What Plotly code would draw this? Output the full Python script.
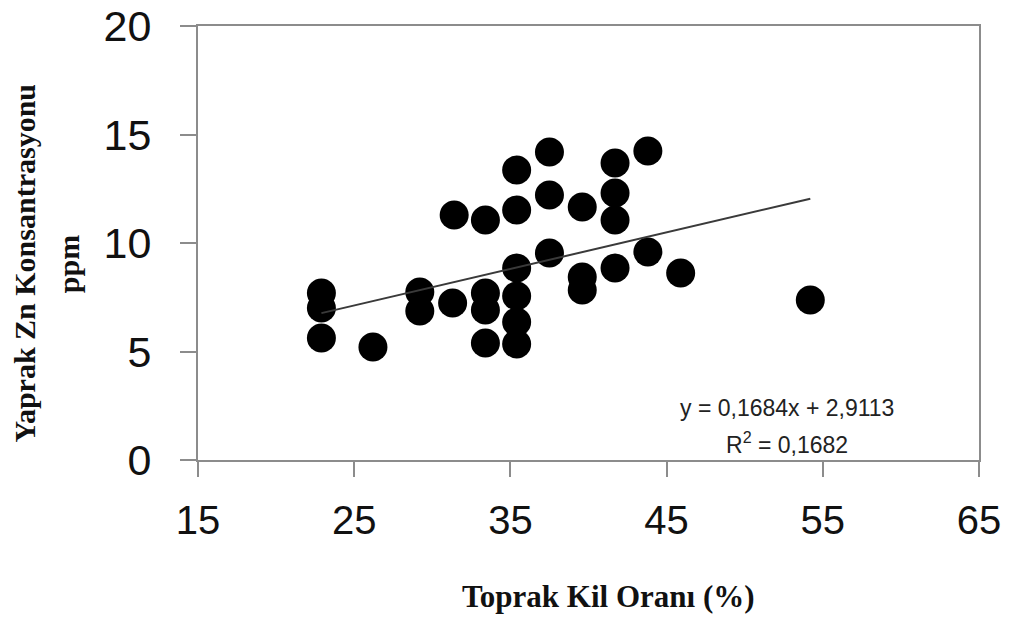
import plotly.graph_objects as go

# Data (x: Toprak Kil Oranı %, y: Yaprak Zn ppm)
clay = [22.9, 22.9, 22.9, 26.2, 29.2, 29.2, 31.3, 31.4,
        33.4, 33.4, 33.4, 33.4,
        35.4, 35.4, 35.4, 35.4, 35.4, 35.4,
        37.5, 37.5, 37.5,
        39.6, 39.6, 39.6,
        41.7, 41.7, 41.7, 41.7,
        43.8, 43.8, 45.9, 54.2]
zn = [7.70, 7.00, 5.62, 5.21, 7.74, 6.87, 7.24, 11.29,
      11.06, 7.70, 6.91, 5.39,
      13.36, 11.52, 8.85, 7.56, 6.36, 5.35,
      14.19, 12.21, 9.54,
      11.66, 8.43, 7.83,
      13.69, 12.30, 11.06, 8.85,
      14.24, 9.59, 8.62, 7.37]

slope = 0.1684
intercept = 2.9113
eq_text = "y = 0,1684x + 2,9113"
r2_text = "R<sup>2</sup> = 0,1682"

x_ticks = [15, 25, 35, 45, 55, 65]
y_ticks = [0, 5, 10, 15, 20]

trend_x = [min(clay), max(clay)]
trend_y = [slope * v + intercept for v in trend_x]

fig = go.Figure()
fig.add_trace(go.Scatter(
    x=clay, y=zn, mode="markers",
    marker=dict(color="black", size=29, line=dict(width=0)),
    showlegend=False, hoverinfo="x+y"))
fig.add_trace(go.Scatter(
    x=trend_x, y=trend_y, mode="lines",
    line=dict(color="#3a3a3a", width=2),
    showlegend=False, hoverinfo="skip"))

axis_color = "#8c8c8c"
fig.update_xaxes(
    range=[15, 65], tickvals=x_ticks, ticktext=[str(v) for v in x_ticks],
    showgrid=False, zeroline=False, automargin=False,
    showline=True, linecolor=axis_color, linewidth=2, mirror=True,
    ticks="outside", ticklen=15, tickwidth=2, tickcolor=axis_color,
    ticklabelstandoff=9,
    tickfont=dict(family="Liberation Sans Narrow, Liberation Sans, Arial", size=40, color="#111111"))
fig.update_yaxes(
    range=[0, 20], tickvals=y_ticks, ticktext=[str(v) for v in y_ticks],
    showgrid=False, zeroline=False, automargin=False,
    showline=True, linecolor=axis_color, linewidth=2, mirror=True,
    ticks="outside", ticklen=16, tickwidth=2, tickcolor=axis_color,
    ticklabelstandoff=20,
    tickfont=dict(family="Liberation Sans, Arial", size=43, color="#111111"))

fig.update_layout(
    width=1011, height=617,
    margin=dict(l=198, r=32, t=26, b=157),
    paper_bgcolor="white", plot_bgcolor="white",
    annotations=[
        dict(text="<b>Toprak Kil Oranı (%)</b>", xref="paper", yref="paper",
             x=0.526, y=-0.315, xanchor="center", yanchor="middle", showarrow=False,
             font=dict(family="Liberation Serif, Times New Roman", size=31, color="#111111")),
        dict(text="<b>Yaprak Zn Konsantrasyonu</b>", xref="paper", yref="paper",
             x=-0.222, y=0.452, xanchor="center", yanchor="middle", showarrow=False,
             textangle=-90,
             font=dict(family="Liberation Serif, Times New Roman", size=30, color="#111111")),
        dict(text="<b>ppm</b>", xref="paper", yref="paper",
             x=-0.166, y=0.452, xanchor="center", yanchor="middle", showarrow=False,
             textangle=-90,
             font=dict(family="Liberation Serif, Times New Roman", size=30, color="#111111")),
        dict(text=eq_text, xref="paper", yref="paper",
             x=0.754, y=0.12, xanchor="center", yanchor="middle", showarrow=False,
             font=dict(family="Liberation Sans Narrow, Liberation Sans, Arial", size=23, color="#222222")),
        dict(text=r2_text, xref="paper", yref="paper",
             x=0.754, y=0.039, xanchor="center", yanchor="middle", showarrow=False,
             font=dict(family="Liberation Sans Narrow, Liberation Sans, Arial", size=23, color="#222222")),
    ],
)

fig.write_html("out.html")
